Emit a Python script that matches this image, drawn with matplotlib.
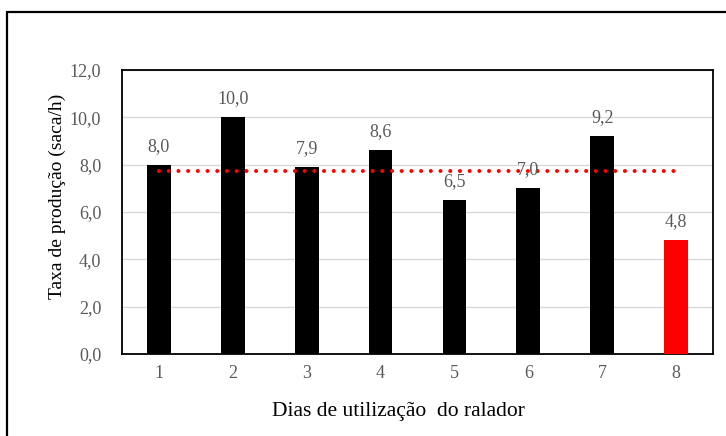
import matplotlib.pyplot as plt
from matplotlib.patches import Rectangle

dias = ['1', '2', '3', '4', '5', '6', '7', '8']
taxa = [8.0, 10.0, 7.9, 8.6, 6.5, 7.0, 9.2, 4.8]
cores = ['black'] * 7 + ['#ff0000']
media = sum(taxa) / len(taxa)

plt.rcParams['font.family'] = ['Liberation Serif', 'DejaVu Serif']

fig = plt.figure(figsize=(7.26, 4.36), dpi=100)
ax = fig.add_axes([122 / 726, 1 - 354 / 436, 591 / 726, 284 / 436])

x = list(range(len(dias)))
ax.bar(x, taxa, width=0.32, color=cores, zorder=3)
ax.plot([x[0], x[-1]], [media, media], linestyle=(0, (0.01, 2.4)),
        color='#ff0000', linewidth=2.9, dash_capstyle='round', zorder=4)

for xi, v in zip(x, taxa):
    ax.text(xi, v + 0.42, f'{v:.1f}'.replace('.', ','), ha='center', va='bottom',
            fontsize=13, color='#595959', zorder=5)

ax.set_xlim(-0.5, len(dias) - 0.5)
ax.set_ylim(0, 12)
ax.set_yticks([0, 2, 4, 6, 8, 10, 12])
ax.set_yticklabels([f'{t:.1f}'.replace('.', ',') for t in [0, 2, 4, 6, 8, 10, 12]])
ax.set_xticks(x)
ax.set_xticklabels(dias)
ax.tick_params(length=0, labelsize=13, labelcolor='#595959', pad=8)
ax.tick_params(axis='y', pad=15)
ax.grid(axis='y', color='#d9d9d9', linewidth=1, zorder=0)
for s in ax.spines.values():
    s.set_linewidth(1.3)

fig.text(398 / 726, 1 - 411 / 436, 'Dias de utilização  do ralador',
         fontsize=15.5, ha='center', va='center')
fig.text(57 / 726, 1 - 196 / 436, 'Taxa de produção (saca/h)',
         fontsize=14, ha='center', va='center', rotation=90)

fig.patches.append(Rectangle((7 / 726, -0.2), 1.2, 1.2 - 12 / 436,
                             transform=fig.transFigure, fill=False,
                             edgecolor='black', linewidth=1.6))

fig.savefig('out.png', dpi=100)
